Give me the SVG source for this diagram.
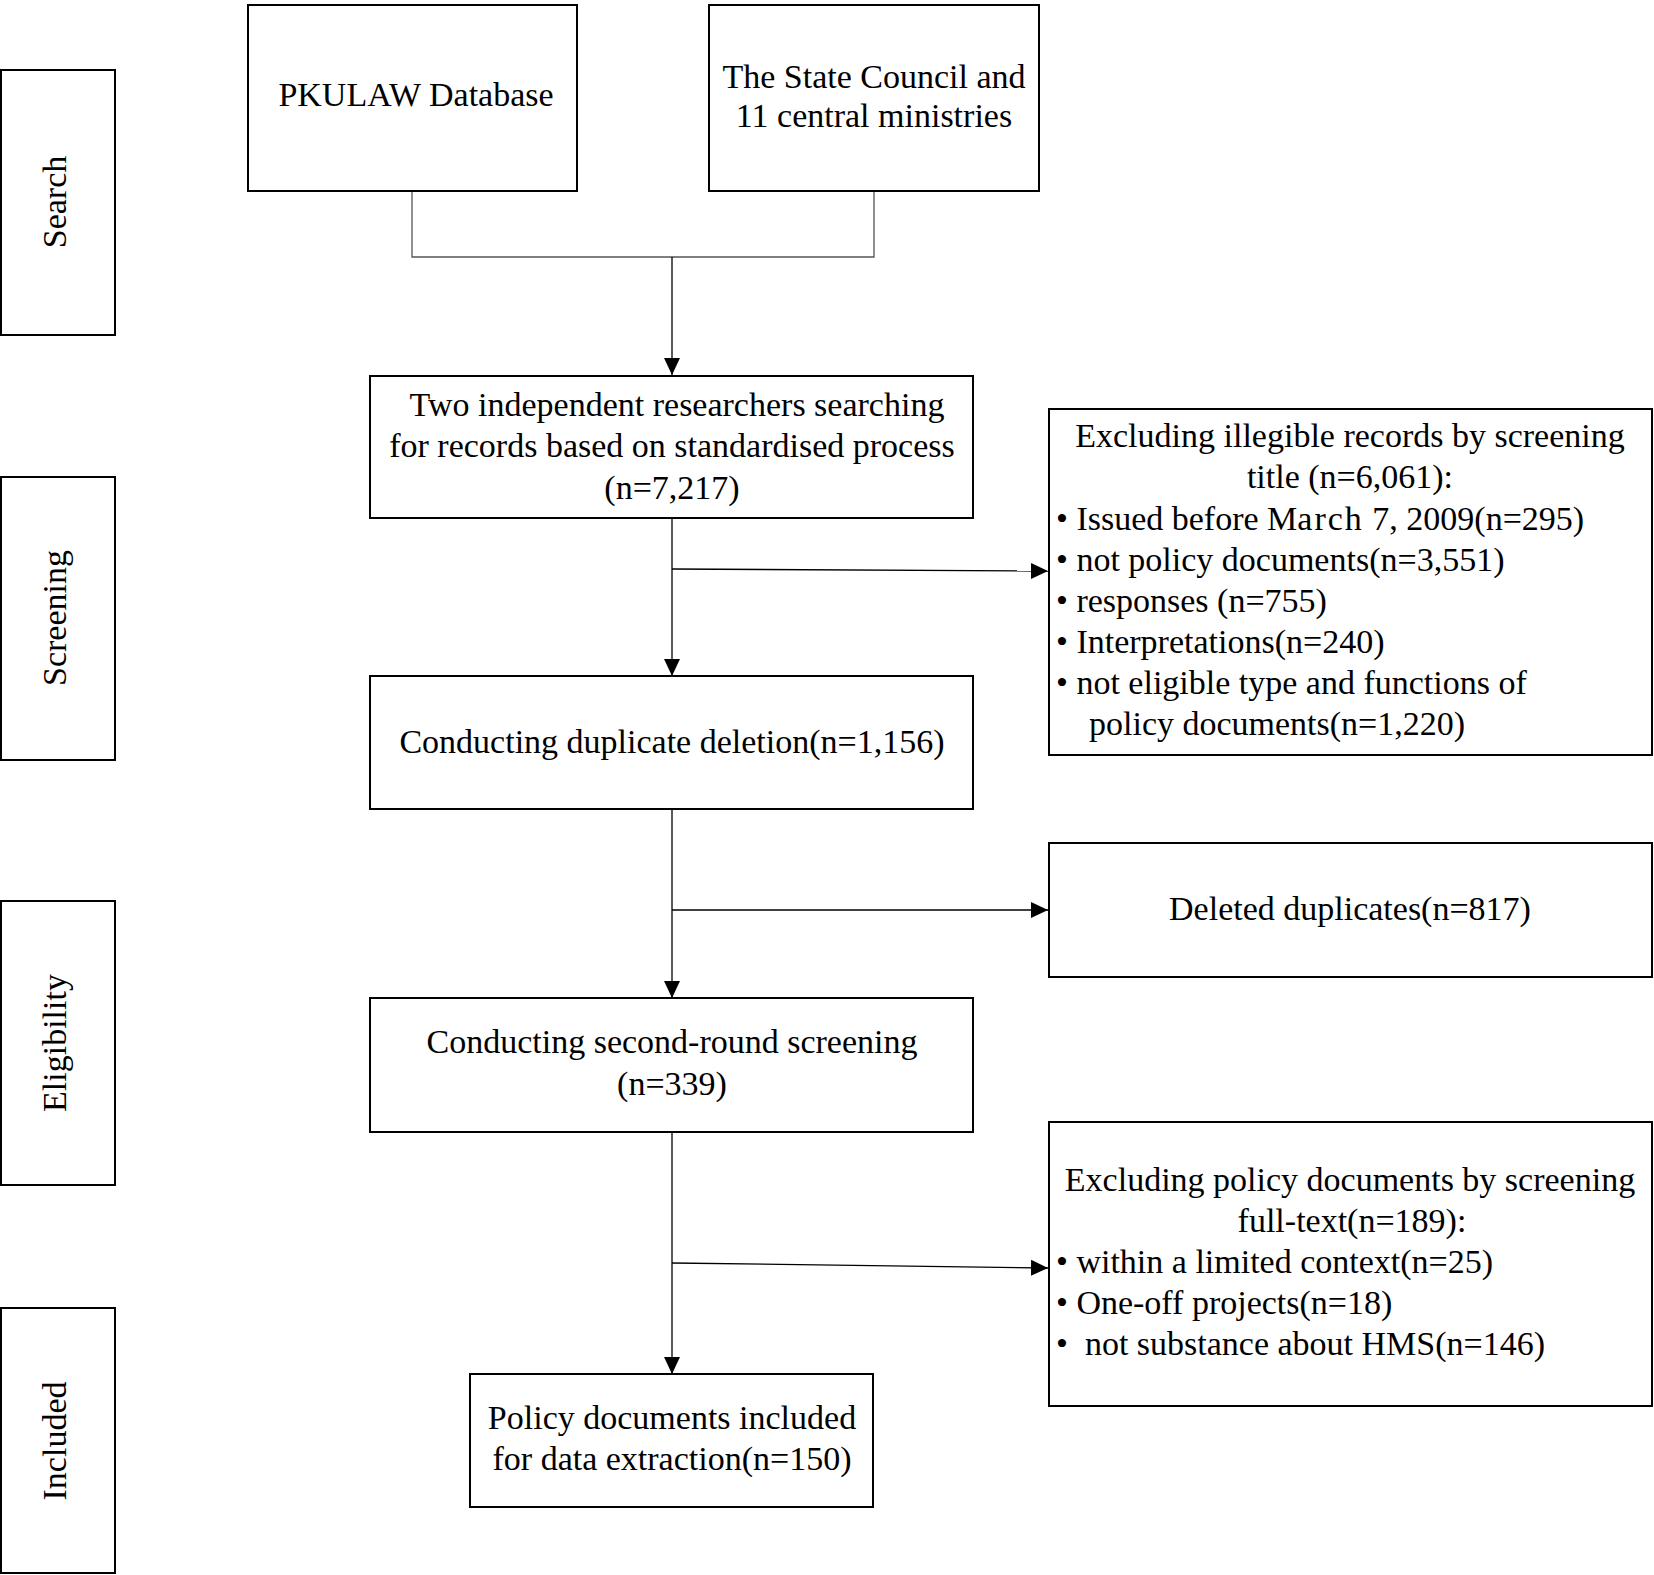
<svg xmlns="http://www.w3.org/2000/svg" width="1654" height="1575" viewBox="0 0 1654 1575">
<defs>
<style>
.box{fill:#fff;stroke:#000;stroke-width:2}
.t{font-family:"Liberation Serif","Times New Roman",serif;font-size:34px;fill:#000}
.c{text-anchor:middle}
.ln{fill:none;stroke:#000;stroke-width:1.3}
.gl{fill:none;stroke:#555;stroke-width:1.3}
</style>
<marker id="ah" viewBox="0 0 17 18" refX="17" refY="9" markerWidth="17" markerHeight="18" markerUnits="userSpaceOnUse" orient="auto">
<path d="M0,1 L17,9 L0,17 Z" fill="#000"/>
</marker>
</defs>
<rect width="1654" height="1575" fill="#fff"/>

<g id="stage-search"><rect class="box" x="1" y="70" width="114" height="265"/><text class="t c" transform="translate(66,202) rotate(-90)">Search</text></g>
<g id="stage-screening"><rect class="box" x="1" y="477" width="114" height="283"/><text class="t c" transform="translate(66,618) rotate(-90)">Screening</text></g>
<g id="stage-eligibility"><rect class="box" x="1" y="901" width="114" height="284"/><text class="t c" transform="translate(66,1043) rotate(-90)">Eligibility</text></g>
<g id="stage-included"><rect class="box" x="1" y="1308" width="114" height="265"/><text class="t c" transform="translate(66,1441) rotate(-90)">Included</text></g>

<g id="connectors">
<polyline class="gl" points="412,191 412,257 874,257 874,191"/>
<line class="ln" x1="672" y1="257" x2="672" y2="375" marker-end="url(#ah)"/>
<line class="ln" x1="672" y1="518" x2="672" y2="676" marker-end="url(#ah)"/>
<line class="ln" x1="672" y1="569" x2="1048" y2="571" marker-end="url(#ah)"/>
<line class="ln" x1="672" y1="809" x2="672" y2="998" marker-end="url(#ah)"/>
<line class="ln" x1="672" y1="910" x2="1048" y2="910" marker-end="url(#ah)"/>
<line class="ln" x1="672" y1="1132" x2="672" y2="1374" marker-end="url(#ah)"/>
<line class="ln" x1="672" y1="1263" x2="1048" y2="1268" marker-end="url(#ah)"/>
</g>

<g id="pkulaw"><rect class="box" x="248" y="5" width="329" height="186"/><text class="t c" x="416" y="106">PKULAW Database</text></g>
<g id="state-council"><rect class="box" x="709" y="5" width="330" height="186"/><text class="t c" x="874" y="88">The State Council and</text><text class="t c" x="874" y="127">11 central ministries</text></g>

<g id="searching"><rect class="box" x="370" y="376" width="603" height="142"/>
<text class="t c" x="677" y="416">Two independent researchers searching</text>
<text class="t c" x="672" y="457">for records based on standardised process</text>
<text class="t c" x="672" y="499">(n=7,217)</text></g>

<g id="excl-title"><rect class="box" x="1049" y="409" width="603" height="346"/>
<text class="t c" x="1350" y="447">Excluding illegible records by screening</text>
<text class="t c" x="1350" y="488">title (n=6,061):</text>
<text class="t" x="1056" y="530">• Issued before M<tspan letter-spacing="2">arch</tspan> 7, 2009(n=295)</text>
<text class="t" x="1056" y="571">• not policy documents(n=3,551)</text>
<text class="t" x="1056" y="612">• responses (n=755)</text>
<text class="t" x="1056" y="653">• Interpretations(n=240)</text>
<text class="t" x="1056" y="694">• not eligible type and functions of</text>
<text class="t" x="1089" y="735">policy documents(n=1,220)</text></g>

<g id="dedup"><rect class="box" x="370" y="676" width="603" height="133"/><text class="t c" x="672" y="753">Conducting duplicate deletion(n=1,156)</text></g>

<g id="deleted"><rect class="box" x="1049" y="843" width="603" height="134"/><text class="t c" x="1350" y="920">Deleted duplicates(n=817)</text></g>

<g id="second-round"><rect class="box" x="370" y="998" width="603" height="134"/>
<text class="t c" x="672" y="1053">Conducting second-round screening</text>
<text class="t c" x="672" y="1095">(n=339)</text></g>

<g id="excl-fulltext"><rect class="box" x="1049" y="1122" width="603" height="284"/>
<text class="t c" x="1350" y="1191">Excluding policy documents by screening</text>
<text class="t c" x="1352" y="1232">full-text(n=189):</text>
<text class="t" x="1056" y="1273">• within a limited context(n=25)</text>
<text class="t" x="1056" y="1314">• One-off projects(n=18)</text>
<text class="t" x="1056" y="1355" xml:space="preserve">•  not substance about HMS(n=146)</text></g>

<g id="included"><rect class="box" x="470" y="1374" width="403" height="133"/>
<text class="t c" x="672" y="1429">Policy documents included</text>
<text class="t c" x="672" y="1470">for data extraction(n=150)</text></g>
</svg>
